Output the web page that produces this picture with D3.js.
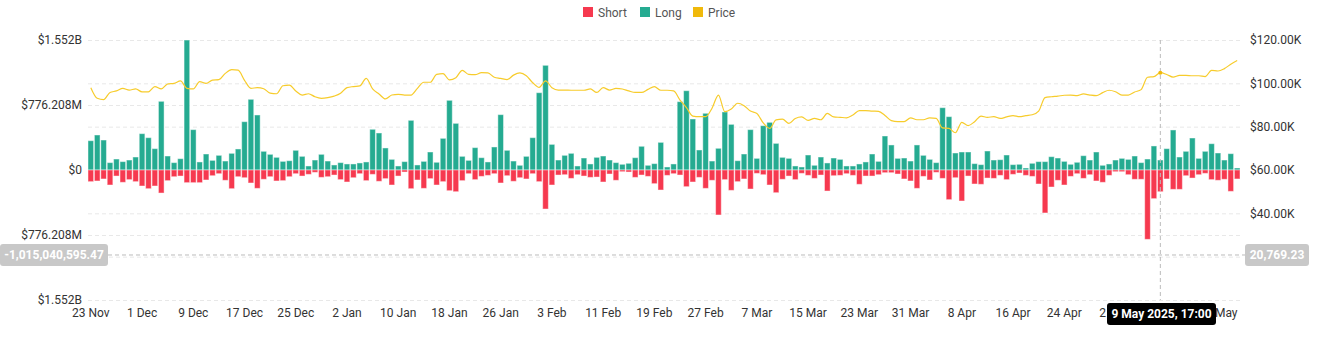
<!DOCTYPE html>
<html>
<head>
<meta charset="utf-8">
<script src="https://cdn.jsdelivr.net/npm/d3@7/dist/d3.min.js"></script>
<style>
  body { margin: 0; background: #fff; }
  svg text { font-family: Roboto, "Noto Sans", sans-serif; }
</style>
</head>
<body>
<script>

var width = 1321,
	height = 350;

// liquidations in $M, one bar per day from 23 Nov 2024
var longs = [
	350,418,358,88,131,100,119,155,434,386,255,820,167,88,135,1552,482,96,191,115,
	175,107,199,251,577,844,657,223,187,151,103,111,235,163,48,119,187,107,60,88,
	72,72,84,96,486,442,263,127,48,100,593,60,103,215,92,378,832,557,163,115,
	267,147,96,275,661,235,107,56,163,386,923,1250,306,119,175,199,48,143,72,151,
	167,119,88,68,80,147,283,56,76,330,36,72,816,947,609,239,677,107,259,693,
	545,111,191,482,139,529,569,318,151,139,48,36,179,56,155,84,143,127,48,48,
	72,96,191,103,406,299,139,143,107,299,175,127,88,744,637,203,215,215,76,64,
	227,119,123,179,64,68,24,80,100,100,159,143,103,68,92,171,119,215,56,72,
	119,139,127,167,88,131,287,119,255,478,155,223,382,139,223,314,203,119,195,24
];
var shorts = [
	139,131,107,179,72,147,115,139,191,223,191,275,127,80,72,151,151,151,119,68,
	44,123,223,80,92,155,219,111,80,131,127,80,44,72,52,28,88,80,60,115,
	143,92,44,127,52,135,103,179,72,24,223,119,219,103,179,139,247,259,127,44,
	115,76,64,44,155,68,135,92,107,44,139,466,179,60,56,100,56,72,88,84,
	143,48,123,20,24,88,60,76,163,239,64,44,60,199,143,88,219,123,537,115,
	243,139,107,227,40,56,179,271,111,72,115,40,64,100,60,251,68,64,44,64,
	171,72,72,56,32,32,48,107,131,219,76,119,28,100,354,92,370,72,167,171,
	96,100,64,115,52,36,64,76,167,513,203,123,179,76,44,100,56,131,147,64,
	20,20,56,111,111,828,342,259,107,231,231,68,96,56,40,115,123,111,255,107
];
// BTC price in $K
var prices = [
	98.0,93.1,92.5,95.8,96.5,97.7,96.9,97.4,96.1,96.1,98.5,97.4,99.7,100.0,101.1,97.7,97.4,100.8,100.0,101.5,
	101.7,104.6,106.3,106.1,101.4,97.7,98.0,97.5,95.5,95.2,98.9,99.2,96.5,94.6,95.2,93.8,93.1,93.4,94.1,95.4,
	98.0,98.5,98.8,102.3,97.4,95.1,92.8,94.6,94.9,94.6,94.6,97.7,100.5,100.5,104.1,104.5,101.6,102.6,106.0,104.1,
	104.0,104.9,104.8,102.8,102.3,101.7,103.8,104.8,103.5,100.3,98.1,101.1,98.0,96.9,96.9,96.8,96.8,96.8,97.4,95.8,
	98.0,96.9,97.7,97.4,96.5,95.8,95.8,97.2,98.5,96.8,96.8,96.5,92.3,88.8,84.9,84.6,84.6,88.5,94.6,86.9,
	88.1,90.8,89.7,87.2,86.1,81.7,79.2,83.1,83.5,81.5,83.8,84.5,82.9,83.8,83.2,86.1,84.5,84.3,84.1,85.4,
	87.4,87.4,87.2,87.1,85.2,82.8,82.3,82.3,84.1,83.2,83.2,84.1,83.8,79.4,79.2,77.2,82.0,80.5,82.3,84.9,
	84.3,84.6,83.8,84.5,85.1,84.6,85.1,85.5,87.2,93.4,93.8,94.1,94.5,94.6,94.3,95.1,94.6,94.3,95.7,96.8,
	96.1,94.6,94.6,96.0,97.1,102.8,103.1,104.9,104.1,102.9,103.7,103.7,103.5,103.5,103.1,106.0,105.7,106.8,108.8,110.5
];

var days = d3.timeDay.range(new Date(2024, 10, 23), new Date(2025, 4, 22));
// 10 May sits fully under the tooltip, so it is left out
var tickDates = ['23 Nov','1 Dec','9 Dec','17 Dec','25 Dec','2 Jan','10 Jan','18 Jan','26 Jan','3 Feb','11 Feb',
	'19 Feb','27 Feb','7 Mar','15 Mar','23 Mar','31 Mar','8 Apr','16 Apr','24 Apr','2 May','18 May'];
var leftTicks = [1552.416, 776.208, 0, -776.208, -1552.416];
var rightTicks = [0, 20, 40, 60, 80, 100, 120];
var rightLabels = [40, 60, 80, 100, 120];

var fmtDay = d3.timeFormat('%-d %b');

var svg = d3.select('body').append('svg')
	.attr('width', width)
	.attr('height', height);

var x = d3.scaleBand()
	.domain(days)
	.range([88, 1240])
	.paddingInner(0.12);

var yL = d3.scaleLinear().domain([-1552.416, 1552.416]).range([300, 40]);
var yR = d3.scaleLinear().domain([0, 120]).range([300, 40]);

// grid
svg.append('g')
	.attr('class', 'grid')
	.attr('transform', 'translate(88,0)')
	.call(d3.axisLeft(yL).tickValues(leftTicks).tickSize(-1154).tickFormat(''))
	.call(function(g){ g.select('.domain').remove(); });
svg.append('g')
	.attr('class', 'grid')
	.attr('transform', 'translate(88,0)')
	.call(d3.axisLeft(yR).tickValues(rightTicks).tickSize(-1154).tickFormat(''))
	.call(function(g){ g.select('.domain').remove(); });
svg.selectAll('.grid line')
	.attr('stroke', '#e8e8e8')
	.attr('stroke-dasharray', '4,3');

// bars
var data = days.map(function(d, i){ return {date: d, long: longs[i], short: shorts[i], price: prices[i]}; });

svg.selectAll('.long')
	.data(data)
	.enter().append('rect').classed('long', true)
	.attr('x', function(d){ return x(d.date); })
	.attr('width', x.bandwidth())
	.attr('y', function(d){ return yL(d.long); })
	.attr('height', function(d){ return yL(0) - yL(d.long); })
	.attr('fill', '#25ab91')
	.attr('stroke', '#fff')
	.attr('stroke-opacity', 0.45)
	.attr('stroke-width', 1);

svg.selectAll('.short')
	.data(data)
	.enter().append('rect').classed('short', true)
	.attr('x', function(d){ return x(d.date); })
	.attr('width', x.bandwidth())
	.attr('y', yL(0))
	.attr('height', function(d){ return yL(-d.short) - yL(0); })
	.attr('fill', '#f6394f')
	.attr('stroke', '#fff')
	.attr('stroke-opacity', 0.45)
	.attr('stroke-width', 1);

// price line
var line = d3.line()
	.x(function(d){ return x(d.date) + x.bandwidth() / 2; })
	.y(function(d){ return yR(d.price); })
	.curve(d3.curveMonotoneX);

svg.append('path')
	.datum(data)
	.attr('d', line)
	.attr('fill', 'none')
	.attr('stroke', '#f7cc2c')
	.attr('stroke-width', 1.2);

// axes
var fmtLeft = function(v){
	var a = Math.abs(v);
	if (a === 0) return '$0';
	if (a >= 1000) return '$' + (a / 1000).toFixed(3) + 'B';
	return '$' + a.toFixed(3) + 'M';
};

var gl = svg.append('g')
	.attr('transform', 'translate(82,0)')
	.call(d3.axisLeft(yL).tickValues(leftTicks).tickSize(0).tickPadding(0).tickFormat(fmtLeft));
var gr = svg.append('g')
	.attr('transform', 'translate(1250,0)')
	.call(d3.axisRight(yR).tickValues(rightLabels).tickSize(0).tickPadding(0)
		.tickFormat(function(v){ return '$' + v.toFixed(2) + 'K'; }));

var tickDays = days.filter(function(d){ return tickDates.indexOf(fmtDay(d)) >= 0; });
var gx = svg.append('g')
	.attr('transform', 'translate(0,300)')
	.call(d3.axisBottom(x).tickValues(tickDays).tickSize(0).tickPadding(8).tickFormat(fmtDay));

[gl, gr, gx].forEach(function(g){
	g.select('.domain').remove();
	g.selectAll('text').attr('fill', '#333').style('font-size', '12px');
});

// legend
var legend = [
	{name: 'Short', color: '#f6394f', x: 583},
	{name: 'Long', color: '#25ab91', x: 640},
	{name: 'Price', color: '#f0b90b', x: 693}
];
var lg = svg.selectAll('.leg').data(legend).enter().append('g').classed('leg', true)
	.attr('transform', function(d){ return 'translate(' + d.x + ',7)'; });
lg.append('rect').attr('width', 10).attr('height', 10).attr('fill', function(d){ return d.color; });
lg.append('text').attr('x', 15).attr('y', 9.5)
	.attr('fill', '#555').style('font-size', '12px')
	.text(function(d){ return d.name; });

// crosshair at 9 May
var hover = data[167];
var cx = x(hover.date) + x.bandwidth() / 2;
var hy = yL(-1015.04059547);

svg.append('line')
	.attr('x1', cx).attr('x2', cx).attr('y1', 40).attr('y2', 300)
	.attr('stroke', '#bbb').attr('stroke-dasharray', '4,3');
svg.append('line')
	.attr('x1', 108).attr('x2', 1245).attr('y1', hy).attr('y2', hy)
	.attr('stroke', '#bbb').attr('stroke-dasharray', '4,3');
svg.append('circle')
	.attr('cx', cx).attr('cy', yR(hover.price)).attr('r', 2)
	.attr('fill', '#f0b90b');

function tag(x0, y0, w, h, bg, txt){
	svg.append('rect').attr('x', x0).attr('y', y0).attr('width', w).attr('height', h)
		.attr('rx', 3).attr('fill', bg);
	svg.append('text').attr('x', x0 + w / 2).attr('y', y0 + h / 2 + 4)
		.attr('text-anchor', 'middle').attr('fill', '#fff')
		.style('font-size', '12px').style('font-weight', 'bold')
		.text(txt);
}
tag(0, 244, 108, 22, '#c8c8c8', '-1,015,040,595.47');
tag(1245, 244, 64, 22, '#c8c8c8', '20,769.23');
tag(1107, 303, 109, 22, '#000', '9 May 2025, 17:00');

</script>
</body>
</html>
